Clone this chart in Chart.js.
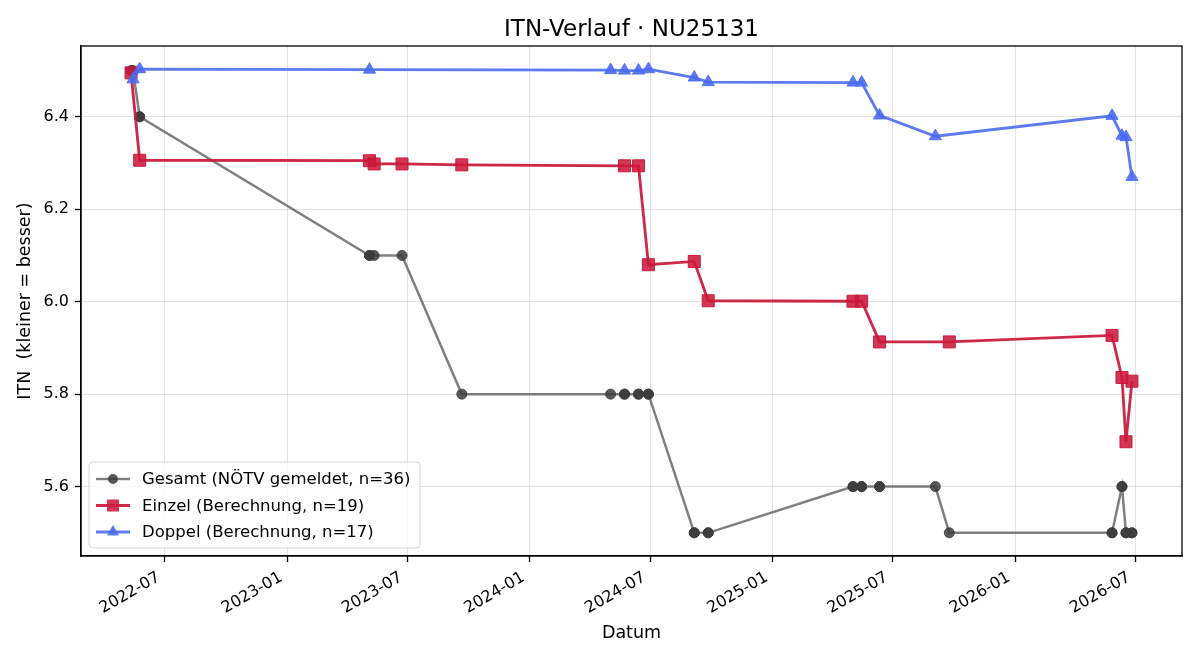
<!DOCTYPE html>
<html>
<head>
<meta charset="utf-8">
<script src="https://cdn.jsdelivr.net/npm/chart.js@4/dist/chart.umd.min.js"></script>
<style>
  html, body { margin: 0; padding: 0; background: #fff; }
  #wrap { width: 1200px; height: 660px; }
</style>
</head>
<body>
<div id="wrap"><canvas id="chartContainer" width="1200" height="660"></canvas></div>
<script>
// Gesamt (NÖTV gemeldet) – one entry per match
var gesamtDates = ['2022-05-11', '2022-05-14', '2022-05-24', '2022-05-24', '2023-05-05', '2023-05-05',
  '2023-05-12', '2023-06-23', '2023-09-21', '2024-05-02', '2024-05-23', '2024-05-23', '2024-06-13',
  '2024-06-13', '2024-06-28', '2024-06-28', '2024-09-05', '2024-09-05', '2024-09-26', '2024-09-26',
  '2025-05-02', '2025-05-02', '2025-05-15', '2025-05-15', '2025-06-11', '2025-06-11', '2025-09-03',
  '2025-09-24', '2026-05-27', '2026-05-27', '2026-06-11', '2026-06-11', '2026-06-17', '2026-06-17',
  '2026-06-26', '2026-06-26'];
var gesamtValues = [6.5, 6.5, 6.4, 6.4, 6.1, 6.1,
  6.1, 6.1, 5.8, 5.8, 5.8, 5.8, 5.8,
  5.8, 5.8, 5.8, 5.5, 5.5, 5.5, 5.5,
  5.6, 5.6, 5.6, 5.6, 5.6, 5.6, 5.6,
  5.5, 5.5, 5.5, 5.6, 5.6, 5.5, 5.5,
  5.5, 5.5];

// Einzel (Berechnung)
var einzelDates = ['2022-05-11', '2022-05-24', '2023-05-05', '2023-05-12', '2023-06-23', '2023-09-21',
  '2024-05-23', '2024-06-13', '2024-06-28', '2024-09-05', '2024-09-26', '2025-05-02', '2025-05-15',
  '2025-06-11', '2025-09-24', '2026-05-27', '2026-06-11', '2026-06-17', '2026-06-26'];
var einzelValues = [6.495, 6.306, 6.305, 6.298, 6.298, 6.296,
  6.294, 6.294, 6.080, 6.087, 6.002, 6.001, 6.001,
  5.913, 5.913, 5.927, 5.836, 5.697, 5.828];

// Doppel (Berechnung)
var doppelDates = ['2022-05-14', '2022-05-24', '2023-05-05', '2024-05-02', '2024-05-23', '2024-06-13',
  '2024-06-28', '2024-09-05', '2024-09-26', '2025-05-02', '2025-05-15', '2025-06-11', '2025-09-03',
  '2026-05-27', '2026-06-11', '2026-06-17', '2026-06-26'];
var doppelValues = [6.481, 6.503, 6.502, 6.501, 6.500, 6.500,
  6.503, 6.485, 6.475, 6.474, 6.474, 6.403, 6.358,
  6.402, 6.359, 6.356, 6.270];

// axis ticks
var xTickLabels = ['2022-07', '2023-01', '2023-07', '2024-01', '2024-07', '2025-01', '2025-07', '2026-01', '2026-07'];
var yTickValues = [5.6, 5.8, 6.0, 6.2, 6.4];

function toTime(s) {
  var p = s.split('-');
  return Date.UTC(+p[0], +p[1] - 1, p[2] ? +p[2] : 1);
}
function points(dates, values) {
  return dates.map(function (d, i) { return { x: toTime(d), y: values[i] }; });
}
var xTickValues = xTickLabels.map(toTime);

// matplotlib-like 5% margins
var allX = gesamtDates.concat(einzelDates, doppelDates).map(toTime);
var allY = gesamtValues.concat(einzelValues, doppelValues);
var xMin = Math.min.apply(null, allX), xMax = Math.max.apply(null, allX);
var yMin = Math.min.apply(null, allY), yMax = Math.max.apply(null, allY);
var xPad = (xMax - xMin) * 0.05, yPad = (yMax - yMin) * 0.05;

Chart.defaults.font.family = 'DejaVu Sans';
Chart.defaults.color = '#000';

// frame around plot area (all four spines)
var frame = {
  id: 'frame',
  afterDraw: function (chart) {
    var ctx = chart.ctx, a = chart.chartArea;
    ctx.save();
    ctx.strokeStyle = '#000';
    ctx.lineWidth = 1.3;
    ctx.strokeRect(a.left, a.top, a.right - a.left, a.bottom - a.top);
    ctx.restore();
  }
};

// legend inside the plot, lower left
var insideLegend = {
  id: 'insideLegend',
  afterDatasetsDraw: function (chart) {
    var ctx = chart.ctx, a = chart.chartArea;
    var x0 = a.left + 8, y0 = a.bottom - 94, w = 331, h = 86;
    ctx.save();
    ctx.beginPath();
    ctx.roundRect(x0, y0, w, h, 4);
    ctx.fillStyle = 'rgba(255,255,255,0.8)';
    ctx.fill();
    ctx.strokeStyle = '#d6d6d6';
    ctx.lineWidth = 1;
    ctx.stroke();
    chart.data.datasets.forEach(function (ds, i) {
      var y = y0 + 17 + i * 26.5;
      ctx.strokeStyle = ds.borderColor;
      ctx.lineWidth = ds.borderWidth;
      ctx.beginPath();
      ctx.moveTo(x0 + 7, y);
      ctx.lineTo(x0 + 41, y);
      ctx.stroke();
      var cx = x0 + 24, r = ds.pointRadius;
      ctx.fillStyle = ds.pointBackgroundColor;
      ctx.beginPath();
      if (ds.pointStyle === 'circle') {
        ctx.arc(cx, y, r, 0, Math.PI * 2);
      } else if (ds.pointStyle === 'rect') {
        var s = r * Math.SQRT1_2;
        ctx.rect(cx - s, y - s, 2 * s, 2 * s);
      } else {
        ctx.moveTo(cx, y - r);
        ctx.lineTo(cx + r * Math.sin(Math.PI * 2 / 3), y + r * 0.5);
        ctx.lineTo(cx - r * Math.sin(Math.PI * 2 / 3), y + r * 0.5);
        ctx.closePath();
      }
      ctx.fill();
      ctx.fillStyle = '#000';
      ctx.font = '16.5px "DejaVu Sans"';
      ctx.textBaseline = 'middle';
      ctx.textAlign = 'left';
      ctx.fillText(ds.label, x0 + 53, y + 1);
    });
    ctx.restore();
  }
};

var ctx = document.getElementById('chartContainer').getContext('2d');
var chart = new Chart(ctx, {
  type: 'line',
  data: {
    datasets: [{
      label: 'Gesamt (NÖTV gemeldet, n=36)',
      data: points(gesamtDates, gesamtValues),
      borderColor: 'rgba(95,95,95,0.8)',
      borderWidth: 2.5,
      pointStyle: 'circle',
      pointRadius: 5,
      pointBackgroundColor: 'rgba(60,60,60,0.85)',
      pointBorderColor: 'rgba(60,60,60,0.85)',
      pointBorderWidth: 1,
      order: 3
    }, {
      label: 'Einzel (Berechnung, n=19)',
      data: points(einzelDates, einzelValues),
      borderColor: 'rgba(200,22,55,0.92)',
      borderWidth: 2.8,
      pointStyle: 'rect',
      pointRadius: 8.5,
      pointBackgroundColor: 'rgba(205,25,60,0.88)',
      pointBorderColor: 'rgba(200,22,55,0.92)',
      pointBorderWidth: 1,
      order: 2
    }, {
      label: 'Doppel (Berechnung, n=17)',
      data: points(doppelDates, doppelValues),
      borderColor: 'rgba(75,108,240,0.9)',
      borderWidth: 2.8,
      pointStyle: 'triangle',
      pointRadius: 7,
      pointBackgroundColor: 'rgba(75,108,240,0.9)',
      pointBorderColor: 'rgba(75,108,240,0.9)',
      pointBorderWidth: 1,
      order: 1
    }]
  },
  options: {
    responsive: false,
    animation: false,
    layout: { padding: { right: 18 } },
    plugins: {
      legend: { display: false },
      tooltip: { enabled: false },
      title: {
        display: true,
        fullSize: false,
        text: 'ITN-Verlauf · NU25131',
        font: { size: 23, weight: 'normal' },
        color: '#000',
        padding: { top: 16, bottom: 2.4 }
      }
    },
    scales: {
      x: {
        type: 'linear',
        min: xMin - xPad,
        max: xMax + xPad,
        afterBuildTicks: function (scale) {
          scale.ticks = xTickValues.map(function (v) { return { value: v }; });
        },
        afterFit: function (scale) { scale.height = 104; },
        ticks: {
          autoSkip: false,
          minRotation: 30,
          maxRotation: 30,
          padding: 6,
          labelOffset: -6,
          font: { size: 16 },
          callback: function (v) {
            var i = xTickValues.indexOf(v);
            return i >= 0 ? xTickLabels[i] : '';
          }
        },
        grid: { color: 'rgba(176,176,176,0.35)', lineWidth: 1, tickLength: 6, tickColor: '#000', tickWidth: 1.3 },
        border: { display: true, color: '#000', width: 1.3 },
        title: { display: true, text: 'Datum', font: { size: 17.5 }, padding: { top: 0, bottom: 16 } }
      },
      y: {
        type: 'linear',
        min: yMin - yPad,
        max: yMax + yPad,
        afterBuildTicks: function (scale) {
          scale.ticks = yTickValues.map(function (v) { return { value: v }; });
        },
        afterFit: function (scale) { scale.width = 81; },
        ticks: {
          padding: 6,
          font: { size: 16 },
          callback: function (v) { return v.toFixed(1); }
        },
        grid: { color: 'rgba(176,176,176,0.35)', lineWidth: 1, tickLength: 6, tickColor: '#000', tickWidth: 1.3 },
        border: { display: true, color: '#000', width: 1.3 },
        title: { display: true, text: 'ITN  (kleiner = besser)', font: { size: 17.5 }, padding: { top: 15, bottom: 0 } }
      }
    }
  },
  plugins: [insideLegend, frame]
});
</script>
</body>
</html>
